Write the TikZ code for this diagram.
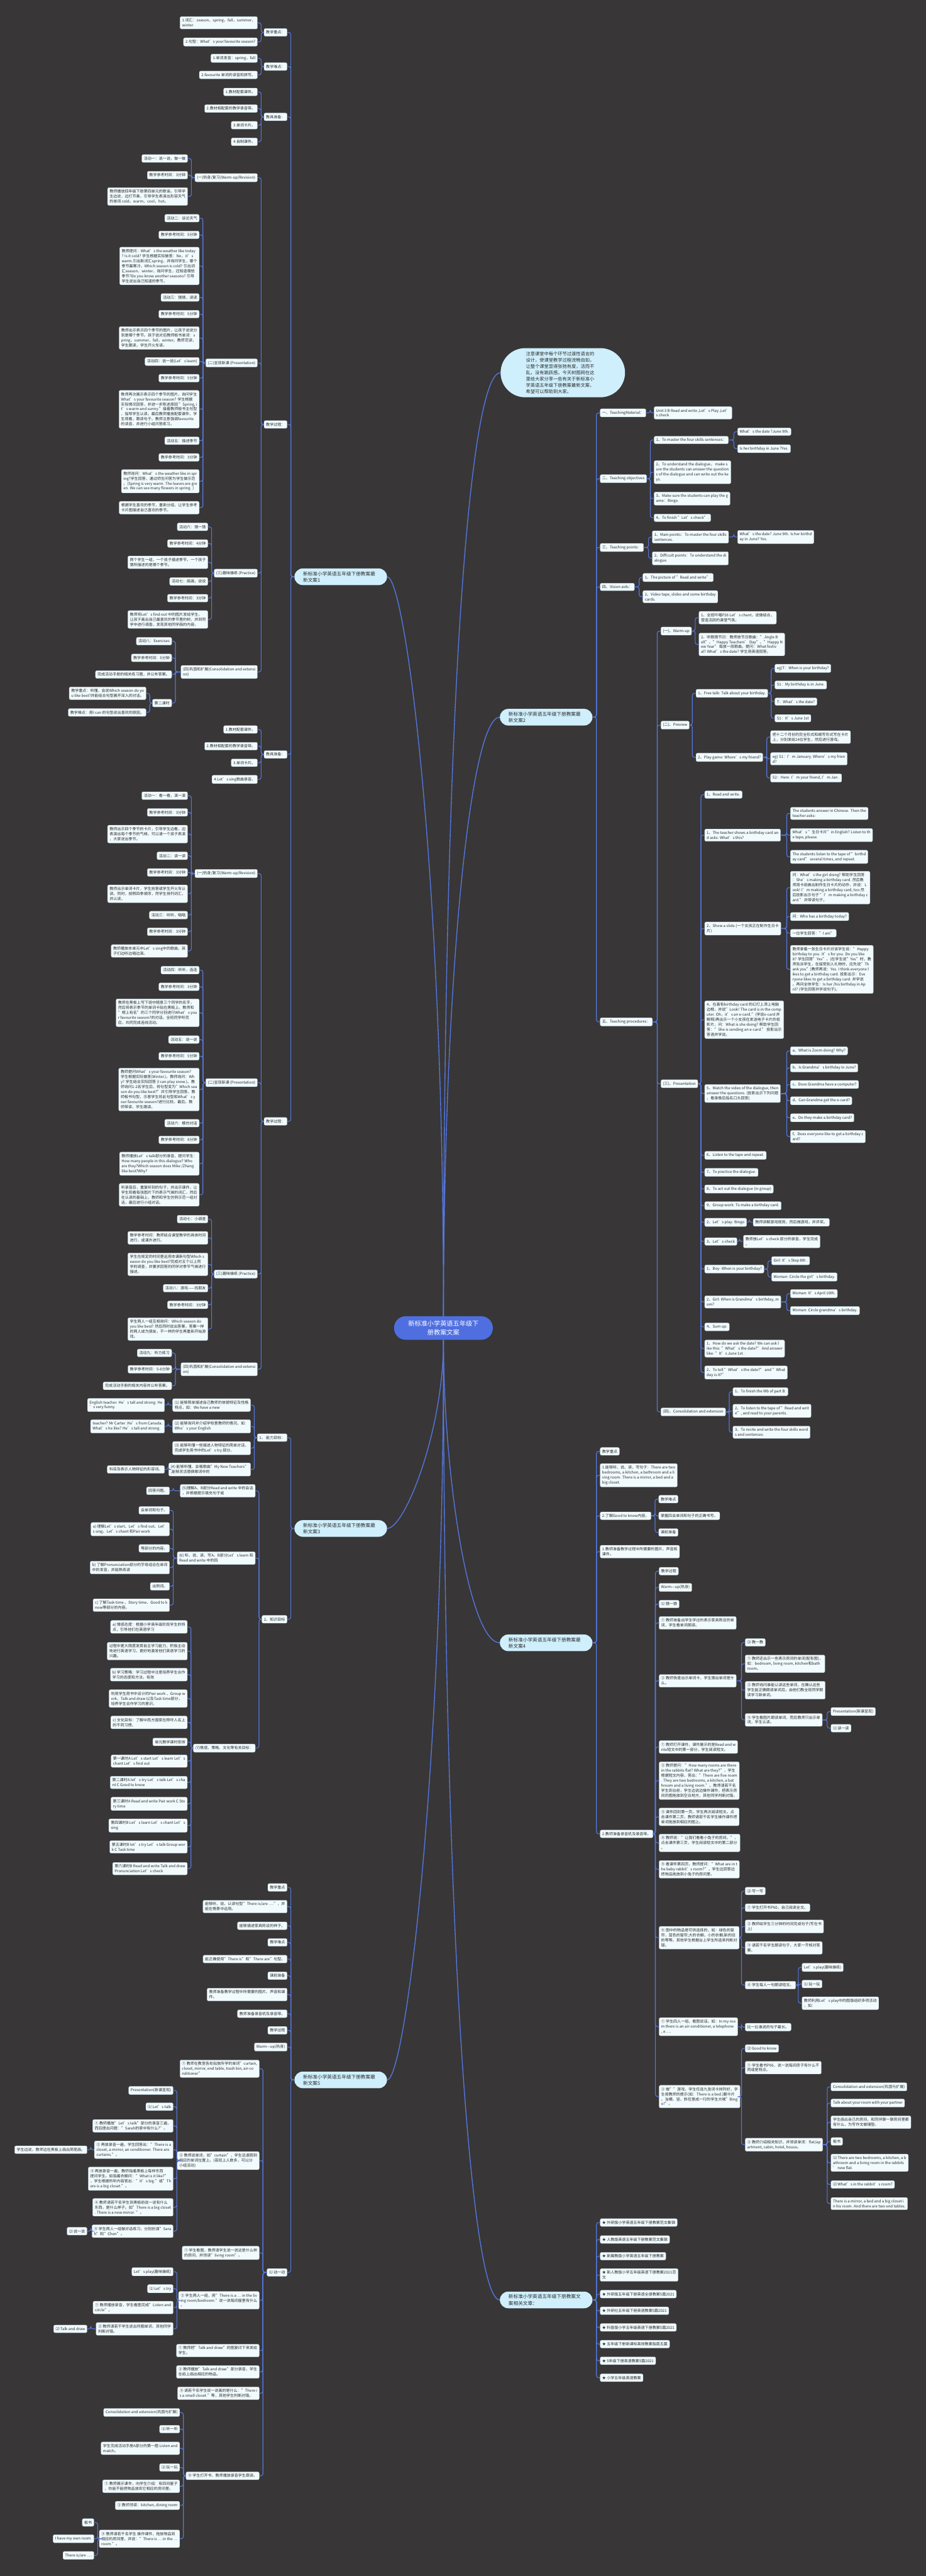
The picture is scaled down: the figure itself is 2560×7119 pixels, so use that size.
\documentclass[tikz,border=0pt]{standalone}
\usepackage{fontspec}
\setmainfont{Noto Sans CJK SC}
\definecolor{bg}{HTML}{383637}
\definecolor{ln}{HTML}{5577DD}
\definecolor{nf}{HTML}{F1FAFD}
\definecolor{nb}{HTML}{B9D4E0}
\definecolor{pf}{HTML}{CFEFFC}
\definecolor{cf}{HTML}{4F6FE0}
\definecolor{tx}{HTML}{2B2B2B}
\tikzset{
 bx/.style={draw=nb, line width=0.3pt, fill=nf, rounded corners=2pt, inner xsep=2.8pt, inner ysep=2.9pt, font=\fontsize{5.25}{6.9}\selectfont, text=tx, align=left},
 lb/.style={bx, anchor=east},
 rb/.style={bx, anchor=west},
 conn/.style={draw=ln, line width=1pt, rounded corners=3pt},
 mainln/.style={draw=ln, line width=1.2pt},
 pill/.style={fill=pf, rounded corners=11.5pt, inner xsep=12pt, inner ysep=4pt, font=\fontsize{6.65}{8.8}\selectfont, text width=104pt, align=left, text=tx},
 callout/.style={fill=pf, rounded corners=34pt, inner xsep=35pt, inner ysep=4.6pt, font=\fontsize{6.3}{8.8}\selectfont, text width=102pt, align=left, text=tx},
 centre/.style={fill=cf, rounded corners=16pt, minimum width=136.5pt, minimum height=32.5pt, font=\fontsize{8.85}{12.5}\selectfont, text=white, align=center},
}
\newcommand\Lk[2]{\draw[conn] (#2.east) -- ++(10,0) |- (#1.west);}
\newcommand\Rk[2]{\draw[conn] (#2.west) -- ++(-10,0) |- (#1.east);}
\begin{document}
\begin{tikzpicture}[x=0.5pt,y=-0.5pt]
\fill[bg] (0,0) rectangle (2560,7119);
\useasboundingbox (0,0) rectangle (2560,7119);

% centre and main branches
\node[centre] (c) at (1226,3670) {新标准小学英语五年级下\\册教案文案};
\node[pill] (b1) at (942,1594) {新标准小学英语五年级下册教案最\\新文案1};
\node[pill] (b3) at (942,4224) {新标准小学英语五年级下册教案最\\新文案3};
\node[pill] (b5) at (942,5748) {新标准小学英语五年级下册教案最\\新文案5};
\node[pill] (b2) at (1510,1982) {新标准小学英语五年级下册教案最\\新文案2};
\node[pill] (b4) at (1510,4540) {新标准小学英语五年级下册教案最\\新文案4};
\node[pill] (b6) at (1510,6356) {新标准小学英语五年级下册教案文\\案相关文章：};
\node[callout] (co) at (1556,1030) {注意课堂中每个环节过渡性语言的\\设计，使课堂教学过程流畅自如，\\让整个课堂显得张弛有度，活而不\\乱，没有跳跃感。今天树图网在这\\里给大家分享一些有关于新标准小\\学英语五年级下册教案最新文案，\\希望可以帮助到大家。};
\draw[mainln] (c.north) .. controls (1227,2400) and (1120,1594) .. (b1.east);
\draw[mainln] (c.south) .. controls (1227,3950) and (1120,4224) .. (b3.east);
\draw[mainln] (c.south) .. controls (1227,4900) and (1120,5748) .. (b5.east);
\draw[mainln] (c.north) .. controls (1227,1900) and (1300,1030) .. (co.west);
\draw[mainln] (c.north) .. controls (1227,2700) and (1300,1982) .. (b2.west);
\draw[mainln] (c.south) .. controls (1227,4100) and (1300,4540) .. (b4.west);
\draw[mainln] (c.south) .. controls (1227,5300) and (1300,6356) .. (b6.west);

% ===== Branch 1 =====
\node[lb] (a1) at (794,89.5) {教学重点：};
\node[lb] (a2) at (794,184) {教学难点：};
\node[lb] (a3) at (794,323) {教具准备：};
\node[lb] (a4) at (794,1173) {教学过程：};
\node[lb] (a5) at (794,2085) {教具准备：};
\node[lb] (a6) at (794,3099) {教学过程：};
\foreach \q in {a1,a2,a3,a4,a5,a6}{\Lk{b1}{\q}}

\node[lb] (b11) at (712,63) {1.词汇：season，spring，fall，summer，\\winter};
\node[lb] (b12) at (712,116) {2.句型：What’s your favourite season?};
\node[lb] (b21) at (712,161) {1.单词发音：spring，fall};
\node[lb] (b22) at (712,207) {2.favourite 单词的读音和拼写。};
\node[lb] (b31) at (712,254) {1.教材配套课件。};
\node[lb] (b32) at (712,300) {2.教材相配套的教学录音带。};
\node[lb] (b33) at (712,346) {3.单词卡片。};
\node[lb] (b34) at (712,392) {4.自制课件。};
\node[lb] (b41) at (712,491) {(一)热身/复习(Warm-up/Revision)};
\node[lb] (b42) at (712,1003) {(二)呈现新课 (Presentation)};
\node[lb] (b43) at (712,1584) {(三)趣味操练 (Practice)};
\node[lb] (b44) at (712,1857) {(四)巩固和扩展(Consolidation and extensi\\on)};
\node[lb] (b51) at (712,2016) {1.教材配套课件。};
\node[lb] (b52) at (712,2062) {2.教材相配套的教学录音带。};
\node[lb] (b53) at (712,2108) {3.单词卡片。};
\node[lb] (b54) at (712,2154) {4.Let’s sing歌曲录音。};
\node[lb] (b61) at (712,2414) {(一)热身/复习(Warm-up/Revision)};
\node[lb] (b62) at (712,2992) {(二)呈现新课 (Presentation)};
\node[lb] (b63) at (712,3521) {(三)趣味操练 (Practice)};
\node[lb] (b64) at (712,3784) {(四)巩固和扩展(Consolidation and extensi\\on)};
\foreach \q in {b11,b12}{\Lk{a1}{\q}}
\foreach \q in {b21,b22}{\Lk{a2}{\q}}
\foreach \q in {b31,b32,b33,b34}{\Lk{a3}{\q}}
\foreach \q in {b41,b42,b43,b44}{\Lk{a4}{\q}}
\foreach \q in {b51,b52,b53,b54}{\Lk{a5}{\q}}
\foreach \q in {b61,b62,b63,b64}{\Lk{a6}{\q}}

\node[lb] (c411) at (519,438) {活动一：说一说，做一做};
\node[lb] (c412) at (519,484) {教学参考时间：3分钟};
\node[lb] (c413) at (519,543) {教师播放四年级下册第四单元的歌谣，引导学\\生边说，边打节奏，引导学生表演出形容天气\\的单词 cold，warm，cool，hot。};
\foreach \q in {c411,c412,c413}{\Lk{b41}{\q}}

\node[lb] (c421) at (551,603) {活动二：谈论天气};
\node[lb] (c422) at (551,649) {教学参考时间：5分钟};
\node[lb] (c423) at (551,735) {教师提问：What’s the weather like today\\? Is it cold? 学生根据实际做答：No，it’s\\warm.引出新词汇spring，并询问学生，哪个\\季节最寒冷，Which season is cold? 引出词\\汇season，winter，询问学生，还知道哪些\\季节?Do you know another seasons? 引导\\学生说出自己知道的季节。};
\node[lb] (c424) at (551,822) {活动三：猜猜，读读};
\node[lb] (c425) at (551,868) {教学参考时间：5分钟};
\node[lb] (c426) at (551,934) {教师出示表示四个季节的图片，让孩子说说分\\别是哪个季节。孩子说对后教师板书单词：s\\pring，summer，fall，winter。教师范读，\\学生跟读，学生开火车读。};
\node[lb] (c427) at (551,999) {活动四：说一说(Let’s learn)};
\node[lb] (c428) at (551,1045) {教学参考时间：5分钟};
\node[lb] (c429) at (551,1131) {教师再次展示表示四个季节的图片，询问学生\\What’s your favourite season? 学生根据\\实际情况回答，并进一步陈述原因 "Spring, i\\t’s warm and sunny."接着教师板书主句型\\，指导学生认读。最后教师播放配套课件，学\\生观看，跟读句子。教师注意强调favourite\\的读音，并进行小组问答练习。};
\node[lb] (c4210) at (551,1218) {活动五：描述季节};
\node[lb] (c4211) at (551,1264) {教学参考时间：3分钟};
\node[lb] (c4212) at (551,1330) {教师询问：What’s the weather like in spr\\ing?学生回答，通过师生问答为学生做示范\\。(Spring is very warm. The leaves are gre\\en. We can see many flowers in spring. )};
\node[lb] (c4213) at (551,1403) {根据学生喜欢的季节，重新分组，让学生参考\\卡片图描述自己喜欢的季节。};
\foreach \q in {c421,c422,c423,c424,c425,c426,c427,c428,c429,c4210,c4211,c4212,c4213}{\Lk{b42}{\q}}

\node[lb] (c431) at (575,1456) {活动六：猜一猜};
\node[lb] (c432) at (575,1502) {教学参考时间：4分钟};
\node[lb] (c433) at (575,1554) {两个学生一组，一个孩子描述季节，一个孩子\\猜所描述的是哪个季节。};
\node[lb] (c434) at (575,1607) {活动七：画画，说说};
\node[lb] (c435) at (575,1653) {教学参考时间：3分钟};
\node[lb] (c436) at (575,1712) {教师将Let’s find out 中的图片发给学生，\\让孩子画出自己最喜欢的季节里的树，并到同\\学中进行调查，发现其他同学画的内容。};
\foreach \q in {c431,c432,c433,c434,c435,c436}{\Lk{b43}{\q}}

\node[lb] (c441) at (475,1772) {活动八：Exercises};
\node[lb] (c442) at (475,1818) {教学参考时间：5分钟};
\node[lb] (c443) at (475,1864) {完成活动手册的相关练习题，并公布答案。};
\node[lb] (c444) at (475,1943) {第二课时};
\foreach \q in {c441,c442,c443,c444}{\Lk{b44}{\q}}
\node[lb] (d1) at (404,1916) {教学重点：听懂，会说Which season do yo\\u like best?并能结合句型展开深入的对话。};
\node[lb] (d2) at (404,1969) {教学难点：用I can 的句型说出喜欢的原因。};
\foreach \q in {d1,d2}{\Lk{c444}{\q}}

\node[lb] (c611) at (519,2199) {活动一：看一看，演一演};
\node[lb] (c612) at (519,2245) {教学参考时间：3分钟};
\node[lb] (c613) at (519,2305) {教师出示四个季节的卡片，引导学生边看，边\\表演出每个季节的气候，可以请一个孩子表演\\，大家说出季节。};
\node[lb] (c614) at (519,2365) {活动二：读一读};
\node[lb] (c615) at (519,2411) {教学参考时间：3分钟};
\node[lb] (c616) at (519,2470) {教师出示单词卡片，学生抢答或学生开火车认\\读。同时，按照四季顺序，然学生排列词汇，\\并认读。};
\node[lb] (c617) at (519,2529) {活动三：听听，唱唱};
\node[lb] (c618) at (519,2575) {教学参考时间：3分钟};
\node[lb] (c619) at (519,2628) {教师播放本单元中Let’s sing中的歌曲，孩\\子们边听边唱边演。};
\foreach \q in {c611,c612,c613,c614,c615,c616,c617,c618,c619}{\Lk{b61}{\q}}

\node[lb] (c621) at (551,2681) {活动四：听听，连连};
\node[lb] (c622) at (551,2727) {教学参考时间：3分钟};
\node[lb] (c623) at (551,2799) {教师在黑板上写下班中随意三个同学的名字，\\然后将表示季节的单词卡贴在黑板上。教师和\\"榜上有名"的三个同学分别进行What’s you\\r favourite season?的对话。全班同学听完\\后，共同完成连线活动。};
\node[lb] (c624) at (551,2873) {活动五：说一说};
\node[lb] (c625) at (551,2919) {教学参考时间：5分钟};
\node[lb] (c626) at (551,3011) {教师提问What’s your favourite season?\\学生根据实际做答(Winter.)。教师询问：Wh\\y? 学生结合实际回答 (I can play snow.)。教\\师询问1-2名学生后，将句型变为"Which sea\\son do you like best?"并引导学生回答。教\\师板书句型，示意学生将此句型和What’s y\\our favourite season?进行比较。最后，教\\师带读，学生跟读。};
\node[lb] (c627) at (551,3104) {活动六：模仿对话};
\node[lb] (c628) at (551,3150) {教学参考时间：8分钟};
\node[lb] (c629) at (551,3216) {教师播放Let’s talk部分的录音，提问学生：\\How many people in this dialogue? Who\\are they?Which season does Mike /Zhang\\like best?Why?};
\node[lb] (c6210) at (551,3302) {听录音后，重复听到的句子，并出示课件，让\\学生观看每张图片下的表示气候的词汇，然后\\在认读的基础上，教师和学生仿例示范一组对\\话，最后进行小组对话。};
\foreach \q in {c621,c622,c623,c624,c625,c626,c627,c628,c629,c6210}{\Lk{b62}{\q}}

\node[lb] (c631) at (575,3369) {活动七：小调查};
\node[lb] (c632) at (575,3421) {教学参考时间：教师结合课堂教学的具体时间\\进行，或课外进行。};
\node[lb] (c633) at (575,3494) {学生在规定的时间里运用本课新句型Which s\\eason do you like best?完成对五个以上同\\学的调查，并要求回答的同学对季节气候进行\\描述。};
\node[lb] (c634) at (575,3560) {活动八：游戏——找朋友};
\node[lb] (c635) at (575,3606) {教学参考时间：3分钟};
\node[lb] (c636) at (575,3673) {学生两人一组互相询问：Which season do\\you like best? 然后同时说出答案，答案一样\\的两人成为朋友，不一样的学生再重新开始游\\戏。};
\foreach \q in {c631,c632,c633,c634,c635,c636}{\Lk{b63}{\q}}

\node[lb] (c641) at (475,3739) {活动九：听力练习};
\node[lb] (c642) at (475,3784) {教学参考时间：5-6分钟};
\node[lb] (c643) at (475,3830) {完成活动手册的相关内容并公布答案。};
\foreach \q in {c641,c642,c643}{\Lk{b64}{\q}}

% ===== Branch 3 =====
\node[lb] (e1) at (794,3973) {1、 能力目标：};
\node[lb] (e2) at (794,4475) {2、知识目标};
\foreach \q in {e1,e2}{\Lk{b3}{\q}}
\node[lb] (e11) at (693,3883) {(1) 能够简单描述自己教师的体貌特征及性格\\特点，如：We have a new};
\node[lb] (e12) at (693,3942) {(2) 能够询问并介绍学校里教师的情况，如：\\Who’s your English};
\node[lb] (e13) at (693,4002) {(3) 能够听懂一些描述人物特征的简单对话，\\完成学生用书中的Let’s try 部分。};
\node[lb] (e14) at (693,4061) {(4) 能够听懂、会唱歌曲"My New Teachers"\\,能够灵活替换歌词中的};
\foreach \q in {e11,e12,e13,e14}{\Lk{e1}{\q}}
\node[lb] (e111) at (455,3883) {English teacher. He’s tall and strong. He\\’s very funny.};
\node[lb] (e121) at (455,3942) {teacher? Mr Carter .He’s from Canada.\\What’s he like? He’s tall and strong.};
\node[lb] (e141) at (455,4061) {科目及表示人物特征的形容词。};
\Lk{e11}{e111} \Lk{e12}{e121} \Lk{e14}{e141}
\node[lb] (e21) at (706,4120) {(5)理解A、B部分Read and write 中的会话\\，并根据提示填充句子或};
\node[lb] (e22) at (706,4306) {(6) 听、说、读、写A、B部分Let’s learn 和\\Read and write 中的四};
\node[lb] (e23) at (706,4831) {(7)情感、策略、文化等有关目标：};
\foreach \q in {e21,e22,e23}{\Lk{e2}{\q}}
\node[lb] (e211) at (469,4120) {回答问题。};
\Lk{e21}{e211}
\node[lb] (e221) at (469,4174) {会单词和句子。};
\node[lb] (e222) at (469,4226) {a) 理解Let’s start、Let’s find out、Let’\\s sing、Let’s chant 和Pair work};
\node[lb] (e223) at (469,4279) {等部分的内容。};
\node[lb] (e224) at (469,4332) {b) 了解Pronunciation部分的字母组合在单词\\中的发音，并能熟练读};
\node[lb] (e225) at (469,4384) {出例词。};
\node[lb] (e226) at (469,4436) {c) 了解Task time 、Story time、Good to k\\now等部分的内容。};
\foreach \q in {e221,e222,e223,e224,e225,e226}{\Lk{e22}{\q}}
\node[lb] (e231) at (518,4496) {a) 情感态度：根据小学高年级阶段学生的特\\点，引导他们在英语学习};
\node[lb] (e232) at (518,4563) {过程中更大限度发挥自主学习能力，积极主动\\地进行英语学习，更好地激发他们英语学习的\\兴趣。};
\node[lb] (e233) at (518,4628) {b) 学习策略：学习过程中注意培养学生合作\\学习的态度和方法，有效};
\node[lb] (e234) at (518,4694) {利用学生用书中设计的Pair work 、Group w\\ork、Talk and draw 以及Task time部分，\\培养学生合作学习的意识。};
\node[lb] (e235) at (518,4760) {c) 文化目标：了解中西方国家在称呼人名上\\的不同习惯。};
\node[lb] (e236) at (518,4814) {单元教学课时安排};
\node[lb] (e237) at (518,4867) {第一课时A Let’s start Let’s learn Let’s\\chant Let’s find out};
\node[lb] (e238) at (518,4926) {第二课时A let’s try Let’s talk Let’s cha\\nt C Good to know};
\node[lb] (e239) at (518,4985) {第三课时A Read and write Pair work C Sto\\ry time};
\node[lb] (e2310) at (518,5045) {第四课时B Let’s learn Let’s chant Let’s\\sing};
\node[lb] (e2311) at (518,5104) {第五课时B let’s try Let’s talk Group wor\\k C Task time};
\node[lb] (e2312) at (518,5164) {第六课时B Read and write Talk and draw\\Pronunciation Let’s check};
\foreach \q in {e231,e232,e233,e234,e235,e236,e237,e238,e239,e2310,e2311,e2312}{\Lk{e23}{\q}}

% ===== Branch 5 =====
\node[lb] (f1) at (794,5216) {教学重点};
\node[lb] (f2) at (794,5269) {能够听、说、认读句型"There is/are ….”，并\\能在情景中运用。};
\node[lb] (f3) at (794,5322) {能够描述家具陈设的样子。};
\node[lb] (f4) at (794,5368) {教学难点};
\node[lb] (f5) at (794,5414) {能正确使用"There is"和"There are"句型。};
\node[lb] (f6) at (794,5460) {课前准备};
\node[lb] (f7) at (794,5512) {教师准备教学过程中所需要的图片、声音和课\\件。};
\node[lb] (f8) at (794,5565) {教师准备录音机及录音带。};
\node[lb] (f9) at (794,5611) {教学过程};
\node[lb] (f10) at (794,5657) {Warm—up(热身)};
\node[lb] (f11) at (794,6280) {⑴ 动一动};
\foreach \q in {f1,f2,f3,f4,f5,f6,f7,f8,f9,f10,f11}{\Lk{b5}{\q}}
\node[lb] (g1) at (717,5717) {① 教师在教室各处贴放所学的单词"curtain,\\closet, mirror, end table, trash bin, air-co\\nditioner"};
\node[lb] (g2) at (717,5971) {② 教师说单词，如"curtain"，学生迅速跑到\\相应的单词位置上。(若班上人数多，可以分\\小组活动)};
\node[lb] (g3) at (717,6226) {① 学生看图，教师请学生说一说这是什么样\\的房间，并领读"living room"。};
\node[lb] (g4) at (717,6357) {② 学生两人一组，用"There is a … in the liv\\ing room/bedroom."说一说每间屋里有什么\\。};
\node[lb] (g5) at (717,6496) {① 教师把"Talk and draw"的图复印下来发给\\学生。};
\node[lb] (g6) at (717,6555) {② 教师播放"Talk and draw"部分录音，学生\\在纸上画出相应的物品。};
\node[lb] (g7) at (717,6614) {③ 请若干名学生说一说画的是什么："There i\\s a small closet."等，其他学生判断对错。};
\node[lb] (g8) at (717,6842) {④ 学生打开书，教师播放录音学生跟读。};
\foreach \q in {g1,g2,g3,g4,g5,g6,g7,g8}{\Lk{f11}{\q}}
\node[lb] (g21) at (479,5777) {Presentation(新课呈现)};
\node[lb] (g22) at (479,5822) {⑴ Let’s talk};
\node[lb] (g23) at (479,5875) {① 教师播放"Let’s talk"部分的录音三遍，\\而后提出问题："Sarah的家中有什么?"。};
\node[lb] (g24) at (479,5941) {② 再放录音一遍，学生回答出："There is a\\closet, a mirror, an conditioner. There are\\curtains."。};
\node[lb] (g25) at (479,6021) {③ 再放录音一遍，教师指着黑板上每样东西\\提问学生。如指着衣橱问："What is it like?"\\，学生根据所听内容答出："It’s big."或"Th\\ere is a big closet."。};
\node[lb] (g26) at (479,6100) {④ 教师请若干名学生到黑板前说一说有什么\\东西，是什么样子。如"There is a big closet\\. There is a new mirror. "。};
\node[lb] (g27) at (479,6166) {⑤ 学生两人一组做对话练习，分别扮演"Sara\\h"和"Chen"。};
\foreach \q in {g21,g22,g23,g24,g25,g26,g27}{\Lk{g2}{\q}}
\node[lb] (g241) at (241,5941) {学生边说，教师边在黑板上画出简笔画。};
\Lk{g24}{g241}
\node[lb] (g271) at (241,6166) {⑵ 说一说};
\Lk{g27}{g271}
\node[lb] (g41) at (479,6278) {Let’s play(趣味操练)};
\node[lb] (g42) at (479,6325) {⑴ Let’s try};
\node[lb] (g43) at (479,6377) {① 教师播放录音，学生看图完成"Listen and\\circle"。};
\node[lb] (g44) at (479,6436) {② 教师请若干学生说出所圈单词，其他同学\\判断对错。};
\foreach \q in {g41,g42,g43,g44}{\Lk{g4}{\q}}
\node[lb] (g441) at (241,6436) {⑵ Talk and draw};
\Lk{g44}{g441}
\node[lb] (g81) at (497,6667) {Consolidation and extension(巩固与扩展)};
\node[lb] (g82) at (497,6713) {⑴ 听一听};
\node[lb] (g83) at (497,6766) {学生完成活动手册A部分的第一题 Listen and\\match。};
\node[lb] (g84) at (497,6819) {⑵ 玩一玩};
\node[lb] (g85) at (497,6871) {① 教师展示课件，向学生介绍：有四间屋子\\，你能不能把物品放到它相应的房间里。};
\node[lb] (g86) at (497,6924) {② 教师领读：kitchen, dining room};
\node[lb] (g87) at (497,7016) {③ 教师请若干名学生 操作课件，拖放物品到\\相应的房间里，并说："There is … in the …\\room."。};
\foreach \q in {g81,g82,g83,g84,g85,g86,g87}{\Lk{g8}{\q}}
\node[lb] (g871) at (260,6971) {板书};
\node[lb] (g872) at (260,7016) {I have my own room.};
\node[lb] (g873) at (260,7062) {There is/are ….};
\foreach \q in {g871,g872,g873}{\Lk{g87}{\q}}

% ===== Branch 2 =====
\node[rb] (h1) at (1659,1141) {一、TeachingMaterial：};
\node[rb] (h2) at (1659,1323) {二、Teaching objectives};
\node[rb] (h3) at (1659,1513) {三、Teaching points：};
\node[rb] (h4) at (1659,1622) {四、Vision aids：};
\node[rb] (h5) at (1659,2824) {五、Teaching procedures：};
\foreach \q in {h1,h2,h3,h4,h5}{\Rk{b2}{\q}}
\node[rb] (h11) at (1808,1141) {Unit 3 B Read and write ,Let’s Play ,Let’\\s check};
\Rk{h1}{h11}
\node[rb] (h21) at (1808,1216) {1、To master the four skills sentences：};
\node[rb] (h22) at (1808,1305) {2、To understand the dialogue， make s\\ure the students can answer the question\\s of the dialogue and can write out the ke\\ys.};
\node[rb] (h23) at (1808,1378) {3、Make sure the students can play the g\\ame：Bingo.};
\node[rb] (h24) at (1808,1431) {4、To finish "Let’s check".};
\foreach \q in {h21,h22,h23,h24}{\Rk{h2}{\q}}
\node[rb] (h211) at (2039,1193) {What’s the date ?June 9th.};
\node[rb] (h212) at (2039,1240) {Is her birthday in June ?Yes.};
\Rk{h21}{h211} \Rk{h21}{h212}
\node[rb] (h31) at (1803,1484) {1、Main points：To master the four skills\\sentences.};
\node[rb] (h32) at (1803,1543) {2、Difficult points：To understand the di\\alogue.};
\Rk{h3}{h31} \Rk{h3}{h32}
\node[rb] (h311) at (2039,1484) {What’s the date? June 9th. Is her birthd\\ay in June? Yes.};
\Rk{h31}{h311}
\node[rb] (h41) at (1777,1596) {1、The picture of "Read and write".};
\node[rb] (h42) at (1777,1649) {2、Video tape, slides and some birthday\\cards.};
\Rk{h4}{h41} \Rk{h4}{h42}
\node[rb] (h51) at (1827,1744) {(一)、Warm-up};
\node[rb] (h52) at (1827,2004) {(二)、Preview};
\node[rb] (h53) at (1827,2995) {(三)、Presentation};
\node[rb] (h54) at (1827,3902) {(四)、Consolidation and extension};
\foreach \q in {h51,h52,h53,h54}{\Rk{h5}{\q}}
\node[rb] (h511) at (1932,1707) {1、全班吟唱P26 Let’s chant，说做结合，\\营造活跃的课堂气氛。};
\node[rb] (h512) at (1932,1781) {2、听歌猜节日：教师放节日歌曲："Jingle B\\ell"、"Happy Teachers’ Day"、"Happy N\\ew Year" 每放一段歌曲，提问：What festiv\\al? What’s the date? 学生用英语回答。};
\Rk{h51}{h511} \Rk{h51}{h512}
\node[rb] (h521) at (1924,1916) {1、Free talk: Talk about your birthday.};
\node[rb] (h522) at (1924,2093) {2、Play game: Where’s my friend?};
\Rk{h52}{h521} \Rk{h52}{h522}
\node[rb] (q1) at (2142,1847) {eg)T：When is your birthday?};
\node[rb] (q2) at (2142,1893) {S1：My birthday is in June.};
\node[rb] (q3) at (2142,1939) {T：What’s the date?};
\node[rb] (q4) at (2142,1985) {S1：It’s June 1st};
\foreach \q in {q1,q2,q3,q4}{\Rk{h521}{\q}}
\node[rb] (r1) at (2130,2037) {把十二个月份的完全形式和缩写形式写在卡片\\上，分别发给24位学生，然后进行游戏。};
\node[rb] (r2) at (2130,2097) {eg) S1：I’m January. Where’s my frien\\d?};
\node[rb] (r3) at (2130,2150) {S2：Here. I’m your friend, I’m Jan .};
\foreach \q in {r1,r2,r3}{\Rk{h522}{\q}}

\node[rb] (p1) at (1948,2196) {1、Read and write.};
\node[rb] (p2) at (1948,2308) {1、The teacher shows a birthday card an\\d asks: What’s this?};
\node[rb] (p3) at (1948,2566) {2、Show a slide.(一个女孩正在制作生日卡\\片)};
\node[rb] (p4) at (1948,2818) {4、在画有birthday card 的幻灯上添上电脑\\边框，并说"Look! The card is in the comp\\uter. Oh，it’s an e-card."(学说e-card 并\\解释)再出示一个小女孩在发送电子卡片的投\\影片，问：What is she doing? 帮助学生回\\答："She is sending an e-card." 投影出示\\答语并学说。};
\node[rb] (p5) at (1948,3022) {5、Watch the video of the dialogue, then\\answer the questions. (投影出示下列问题\\，看录像后指名口头回答)};
\node[rb] (p6) at (1948,3193) {6、Listen to the tape and repeat.};
\node[rb] (p7) at (1948,3240) {7、To practice the dialogue.};
\node[rb] (p8) at (1948,3286) {8、To act out the dialogue (in group)};
\node[rb] (p9) at (1948,3332) {9、Group work: To make a birthday card.};
\node[rb] (p10) at (1948,3378) {2、Let’s play: Bingo};
\node[rb] (p11) at (1948,3431) {3、Let’s check};
\node[rb] (p12) at (1948,3507) {1、Boy: When is your birthday?};
\node[rb] (p13) at (1948,3598) {2、Girl: When is Grandma’s birthday, m\\om?};
\node[rb] (p14) at (1948,3667) {4、Sum up:};
\node[rb] (p15) at (1948,3727) {1、How do we ask the date? We can ask l\\ike this: "What’s the date?" And answer\\like: "It’s June 1st .};
\node[rb] (p16) at (1948,3793) {2、To tell "What’s the date?" and "What\\day is it?"};
\foreach \q in {p1,p2,p3,p4,p5,p6,p7,p8,p9,p10,p11,p12,p13,p14,p15,p16}{\Rk{h53}{\q}}
\node[rb] (p21) at (2185,2248) {The students answer in Chinese. Then the\\teacher asks:};
\node[rb] (p22) at (2185,2308) {What’s "生日卡片"in English? Listen to th\\e tape, please.};
\node[rb] (p23) at (2185,2368) {The students listen to the tape of "birthd\\ay card" several times, and repeat.};
\foreach \q in {p21,p22,p23}{\Rk{p2}{\q}}
\node[rb] (p31) at (2185,2453) {问：What’s the girl doing? 帮助学生回答\\：She’s making a birthday card. 然后教\\师用卡纸做出制作生日卡片的动作，并说：L\\ook! I’m making a birthday card, too.然\\后投影出示句子 "I’m making a birthday c\\ard." 并带读句子。};
\node[rb] (p32) at (2185,2533) {问：Who has a birthday today?};
\node[rb] (p33) at (2185,2579) {一位学生回答："I am"};
\node[rb] (p34) at (2185,2679) {教师拿着一张生日卡片对该学生说："Happy\\birthday to you. It’s for you. Do you like\\it? 学生回答"Yes"。(在学生说"Yes"时，教\\师告诉学生，在接受别人礼物时，应先说"Th\\ank you")教师再说：Yes. I think everyone l\\ikes to get a birthday card. 投影出示：Eve\\ryone likes to get a birthday card. 并学说\\。再问全体学生：Is her /his birthday in Ap\\ril? (学生回答并学说句子)。};
\foreach \q in {p31,p32,p33,p34}{\Rk{p3}{\q}}
\node[rb] (p51) at (2185,2904) {a、What is Zoom doing? Why?};
\node[rb] (p52) at (2185,2951) {b、Is Grandma’s birthday in June?};
\node[rb] (p53) at (2185,2997) {c、Does Grandma have a computer?};
\node[rb] (p54) at (2185,3042) {d、Can Grandma get the e-card?};
\node[rb] (p55) at (2185,3089) {e、Do they make a birthday card?};
\node[rb] (p56) at (2185,3141) {f、Does everyone like to get a birthday c\\ard?};
\foreach \q in {p51,p52,p53,p54,p55,p56}{\Rk{p5}{\q}}
\node[rb] (p101) at (2082,3378) {教师讲解游戏规则，然后做游戏，并评奖。};
\Rk{p10}{p101}
\node[rb] (p111) at (2055,3431) {教师放Let’s check 部分的录音，学生完成\\。};
\Rk{p11}{p111}
\node[rb] (p121) at (2133,3484) {Girl: It’s Step 8th .};
\node[rb] (p122) at (2133,3529) {Woman: Circle the girl’s birthday.};
\Rk{p12}{p121} \Rk{p12}{p122}
\node[rb] (p131) at (2185,3575) {Woman: It’s April 10th.};
\node[rb] (p132) at (2185,3622) {Woman: Circle grandma’s birthday.};
\Rk{p13}{p131} \Rk{p13}{p132}
\node[rb] (s1) at (2026,3846) {1、To finish the Wb of part B.};
\node[rb] (s2) at (2026,3899) {2、To listen to the tape of "Read and writ\\e", and read to your parents.};
\node[rb] (s3) at (2026,3958) {3、To recite and write the four skills word\\s and sentences.};
\foreach \q in {s1,s2,s3}{\Rk{h54}{\q}}

% ===== Branch 4 =====
\node[rb] (k1) at (1659,4011) {教学重点};
\node[rb] (k2) at (1659,4077) {1.能够听、说、读、写句子：There are two\\bedrooms, a kitchen, a bathroom and a li\\ving room. There is a mirror, a bed and a\\big closet.};
\node[rb] (k3) at (1659,4189) {2.了解Good to know内容。};
\node[rb] (k4) at (1659,4288) {1.教师准备教学过程中所需要的图片、声音和\\课件。};
\node[rb] (k5) at (1659,5068) {2.教师准备录音机及录音带。};
\foreach \q in {k1,k2,k3,k4,k5}{\Rk{b4}{\q}}
\node[rb] (k31) at (1821,4143) {教学难点};
\node[rb] (k32) at (1821,4189) {掌握四会单词和句子的正确书写。};
\node[rb] (k33) at (1821,4235) {课前准备};
\foreach \q in {k31,k32,k33}{\Rk{k3}{\q}}
\node[rb] (m1) at (1822,4342) {教学过程};
\node[rb] (m2) at (1822,4387) {Warm—up(热身)};
\node[rb] (m3) at (1822,4433) {⑴ 猜一猜};
\node[rb] (m4) at (1822,4485) {① 教师准备出学生学过的表示家具陈设的单\\词，学生看单词朗读。};
\node[rb] (m5) at (1822,4645) {② 教师快速出示单词卡，学生猜出单词是什\\么。};
\node[rb] (m6) at (1822,4828) {① 教师打开课件，课件展示的是Read and w\\rite短文中的第一部分，学生阅读短文。};
\node[rb] (m7) at (1822,4921) {② 教师提问："How many rooms are there\\in the rabbits flat? What are they?"，学生\\根据短文内容，答出："There are five room\\. They are two bedrooms, a kitchen, a bat\\hroom and a living room."。教师请若干名\\学生到台前，学生边说边操作课件，把表示房\\间的图拖放到空白地方，其他同学判断对错。};
\node[rb] (m8) at (1822,5021) {③ 课件回到第一页，学生再次阅读短文。点\\击课件第二页，教师请若干名学生操作课件把\\单词拖放到相应的图上。};
\node[rb] (m9) at (1822,5093) {④ 教师说："让我们看看小兔子的房间。"，\\点击课件第三页，学生阅读短文中的第二部分\\。};
\node[rb] (m10) at (1822,5166) {⑤ 看课件第四页，教师提问："What are in t\\he baby rabbit’s room?"，学生边回答边\\把物品拖放到小兔子的房间里。};
\node[rb] (m11) at (1822,5355) {⑥ 图中的物品是可供选择的，如：绿色的窗\\帘，蓝色的窗帘;大的衣橱，小的衣橱;新的旧\\的等等。其他学生根据台上学生所选来判断对\\错。};
\node[rb] (m12) at (1822,5601) {① 学生四人一组，看图说话。如：In my roo\\m there is an air-conditioner, a telephone\\, a ….};
\node[rb] (m13) at (1822,5794) {② 做""游戏，学生任选九张词卡排列好，学\\生按教师的提示(如：There is a bed.)翻卡片\\。当横、竖、斜任意成一行的学生大喊"Bing\\o!"。};
\foreach \q in {m1,m2,m3,m4,m5,m6,m7,m8,m9,m10,m11,m12,m13}{\Rk{k5}{\q}}
\node[rb] (m51) at (2060,4539) {⑵ 教一教};
\node[rb] (m52) at (2060,4598) {① 教师还出示一些表示房间的单词(配有图)，\\如：bedroom, living room, kitchen和bath\\room。};
\node[rb] (m53) at (2060,4671) {② 教师询问谁能认读这些单词，在确认这些\\学生能正确朗读单词后，由他们教全班同学朗\\读学习新单词。};
\node[rb] (m54) at (2060,4753) {③ 学生看图片朗读单词，而后教师只出示单\\词，学生认读。};
\foreach \q in {m51,m52,m53,m54}{\Rk{m5}{\q}}
\node[rb] (m541) at (2297,4730) {Presentation(新课呈现)};
\node[rb] (m542) at (2297,4776) {⑴ 读一读};
\Rk{m54}{m541} \Rk{m54}{m542}
\node[rb] (m111) at (2060,5226) {⑵ 写一写};
\node[rb] (m112) at (2060,5272) {① 学生打开书P60，自己阅读全文。};
\node[rb] (m113) at (2060,5324) {② 教师给学生三分钟的时间完成句子(写在书\\上)};
\node[rb] (m114) at (2060,5383) {③ 请若干名学生朗读句子，大家一齐核对答\\案。};
\node[rb] (m115) at (2060,5486) {④ 学生每人一句朗读短文。};
\foreach \q in {m111,m112,m113,m114,m115}{\Rk{m11}{\q}}
\node[rb] (m1151) at (2217,5437) {Let’s play(趣味操练)};
\node[rb] (m1152) at (2217,5483) {⑴ 玩一玩};
\node[rb] (m1153) at (2217,5536) {教师利用Let’s play中的图版组织多项活动\\，如：};
\foreach \q in {m1151,m1152,m1153}{\Rk{m115}{\q}}
\node[rb] (m121) at (2060,5602) {比一比谁说的句子最长。};
\Rk{m12}{m121}
\node[rb] (m131) at (2060,5661) {⑵ Good to know};
\node[rb] (m132) at (2060,5714) {① 学生看书P66，说一说每间房子有什么不\\同或是特点。};
\node[rb] (m133) at (2060,5927) {② 教师介绍相关知识，并领读单词：flat/ap\\artment, cabin, hotel, house。};
\foreach \q in {m131,m132,m133}{\Rk{m13}{\q}}
\node[rb] (m1331) at (2297,5767) {Consolidation and extension(巩固与扩展)};
\node[rb] (m1332) at (2297,5812) {Talk about your room with your partner};
\node[rb] (m1333) at (2297,5865) {学生画出自己的房间，和同伴聊一聊房间里都\\有什么，为写作文做铺垫。};
\node[rb] (m1334) at (2297,5918) {板书};
\node[rb] (m1335) at (2297,5977) {⑴ There are two bedrooms, a kitchen, a b\\athroom and a living room in the rabbits\\’ new flat.};
\node[rb] (m1336) at (2297,6037) {⑵ What’s in the rabbit’s room?};
\node[rb] (m1337) at (2297,6090) {There is a mirror, a bed and a big closet i\\n his room. And there are two end tables.};
\foreach \q in {m1331,m1332,m1333,m1334,m1335,m1336,m1337}{\Rk{m133}{\q}}

% ===== Related articles =====
\node[rb] (t1) at (1659,6142) {★ 外研版小学英语五年级下册教案范文集锦};
\node[rb] (t2) at (1659,6189) {★ 人教版英语五年级下册教案范文集锦};
\node[rb] (t3) at (1659,6235) {★ 新冀教版小学英语五年级下册教案};
\node[rb] (t4) at (1659,6287) {★ 新人教版小学五年级英语下册教案2021范\\文};
\node[rb] (t5) at (1659,6340) {★ 外研版五年级下册英语全册教案5篇2021};
\node[rb] (t6) at (1659,6386) {★ 外研社五年级下册英语教案5篇2021};
\node[rb] (t7) at (1659,6432) {★ 科普版小学五年级英语下册教案5篇2021};
\node[rb] (t8) at (1659,6478) {★ 五年级下册新课标高效教案指南五篇};
\node[rb] (t9) at (1659,6524) {★ 5年级下册英语教案5篇2021};
\node[rb] (t10) at (1659,6571) {★ 小学五年级英语教案};
\foreach \q in {t1,t2,t3,t4,t5,t6,t7,t8,t9,t10}{\Rk{b6}{\q}}
\end{tikzpicture}
\end{document}
